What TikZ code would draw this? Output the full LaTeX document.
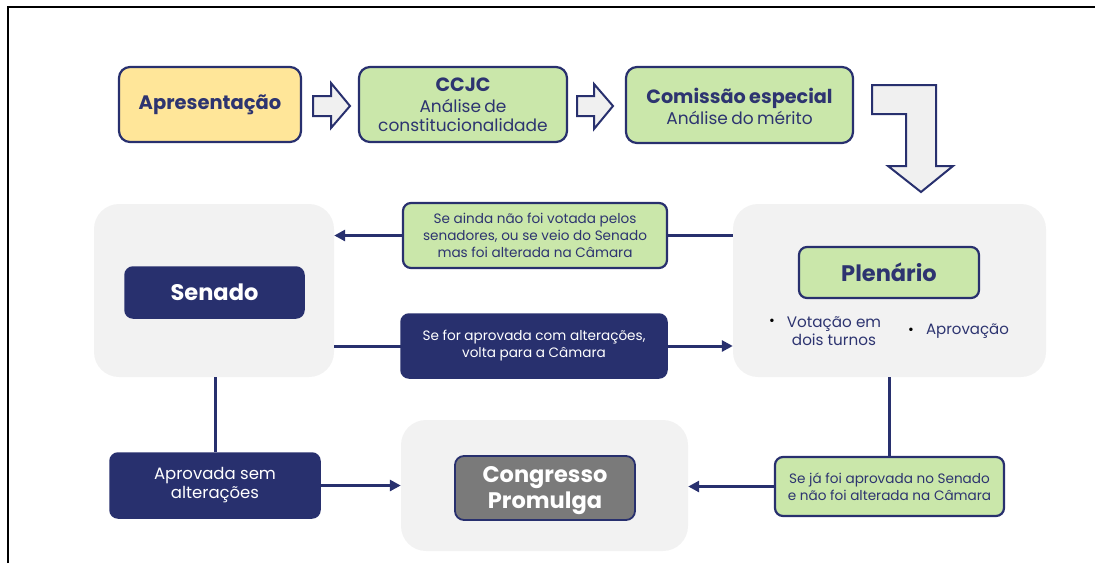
\documentclass[tikz,border=0pt]{standalone}
\usepackage{fontspec}
\setmainfont{Poppins}
\usetikzlibrary{arrows.meta}
\definecolor{navy}{RGB}{40,48,110}
\definecolor{tnavy}{RGB}{45,52,112}
\definecolor{lgreen}{RGB}{202,231,170}
\definecolor{lyellow}{RGB}{255,230,153}
\definecolor{cgray}{RGB}{242,242,242}
\definecolor{agray}{RGB}{240,240,240}
\definecolor{dgray}{RGB}{122,122,122}
\pgfdeclarelayer{bg}
\pgfdeclarelayer{ln}
\pgfsetlayers{bg,ln,main}
\newcommand{\bigt}{\bfseries\fontsize{19.2}{21}\selectfont}
\newcommand{\subt}{\mdseries\fontsize{17}{20.5}\selectfont}
\tikzset{
  x=1pt, y=-1pt,
  box/.style={draw=navy, line width=2.2pt, rounded corners=11pt, inner sep=0pt, align=center, text=tnavy},
  container/.style={fill=cgray, rounded corners=25pt, inner sep=0pt},
  lab/.style={font=\fontsize{13.6}{17}\selectfont},
  conn/.style={draw=navy, line width=3pt},
  tip/.style={-{Triangle[length=11pt,width=11pt]}},
  blockarrow/.style={draw=navy, fill=agray, line width=2pt, line join=miter},
}
\begin{document}
\begin{tikzpicture}
\useasboundingbox (0,0) rectangle (1095,563);
% frame
\draw[line width=2pt] (8,563) -- (8,7) -- (1095,7);

% top row
\node[box, fill=lyellow, font=\bfseries\fontsize{19.5}{22}\selectfont, minimum width=182pt, minimum height=75pt] (apres) at (210,104.5) {Apresentação};
\node[box, fill=lgreen, minimum width=208pt, minimum height=75pt, text width=206pt] (ccjc) at (463,104.5)
  {\bigt CCJC\\[1pt]\subt Análise de\\[4.5pt]constitucionalidade};
\node[box, fill=lgreen, minimum width=227pt, minimum height=76pt] (comis) at (739.5,105) {};
\node[text=tnavy, align=center, inner sep=0pt, text width=225pt] (comisT) at ([yshift=-1.5pt]comis.center)
  {\bigt Comissão especial\\[1.5pt]\subt Análise do mérito};

% block arrows
\draw[blockarrow] (313,96) -- (331,96) -- (331,83) -- (350,106) -- (331,128) -- (331,116) -- (313,116) -- cycle;
\draw[blockarrow] (577,96) -- (594,96) -- (594,84) -- (613,106) -- (594,129) -- (594,116) -- (577,116) -- cycle;
\draw[blockarrow] (872,85) -- (936,85) -- (936,166) -- (953,166) -- (921,192) -- (888,166) -- (906,166) -- (906,114) -- (872,114) -- cycle;

% containers
\begin{pgfonlayer}{bg}
\node[container, minimum width=240pt, minimum height=173pt] (senC) at (214,290.5) {};
\node[container, minimum width=313pt, minimum height=173pt] (plenC) at (889.5,290.5) {};
\node[container, minimum width=287pt, minimum height=131pt] (congC) at (544.5,485.5) {};
\end{pgfonlayer}

% inner boxes
\node[box, fill=navy, text=white, font=\bfseries\fontsize{22.5}{26}\selectfont, line width=1.5pt, rounded corners=8pt, minimum width=179pt, minimum height=51pt] (senado) at (214.5,292.5) {Senado};
\node[box, fill=lgreen, font=\bfseries\fontsize{22.5}{26}\selectfont, rounded corners=8pt, minimum width=180pt, minimum height=51pt] (plen) at (889,272.5) {Plenário};
\node[box, fill=dgray, line width=1.8pt, rounded corners=9pt, minimum width=180pt, minimum height=64pt] (cong) at (545,488) {};
\node[text=white, align=center, inner sep=0pt, font=\bfseries\fontsize{22.5}{26}\selectfont] (congT) at ([yshift=-3pt]cong.center) {Congresso\\Promulga};

% bullets in plenario
\node[font=\fontsize{14}{14}\selectfont, text=black] (b1) at (772,322) {•};
\node[font=\fontsize{15.2}{18}\selectfont, text=tnavy, align=center] (vot) at (834,331) {Votação em\\dois turnos};
\node[font=\fontsize{14}{14}\selectfont, text=black] (b2) at (911,331) {•};
\node[font=\fontsize{15}{18}\selectfont, text=tnavy] (aprov) at (967.5,331) {Aprovação};

% label boxes
\node[box, fill=lgreen, lab, rounded corners=8pt, minimum width=264pt, minimum height=65pt] (l1) at (535,235.5)
  {Se ainda não foi votada pelos\\senadores, ou se veio do Senado\\mas foi alterada na Câmara};
\node[box, fill=navy, text=white, lab, line width=1.5pt, rounded corners=8pt, minimum width=266pt, minimum height=64pt] (l2) at (534,346)
  {Se for aprovada com alterações,\\volta para a Câmara};
\node[box, fill=navy, text=white, line width=1.5pt, rounded corners=8pt, minimum width=210pt, minimum height=65pt,
  font=\fontsize{16.5}{19}\selectfont] (l3) at (215,485.5)
  {Aprovada sem\\alterações};
\node[box, fill=lgreen, lab, rounded corners=8pt, minimum width=229pt, minimum height=59pt] (l4) at (889.5,486.5)
  {Se já foi aprovada no Senado\\e não foi alterada na Câmara};

% connectors
\begin{pgfonlayer}{ln}
\draw[conn, tip] (plenC.west |- l1) -- (senC.east |- l1);
\draw[conn, tip] (senC.east |- l2) -- (plenC.west |- l2);
\draw[conn] (senC.south -| l3) -- (l3.north);
\draw[conn, tip] (l3.east) -- (congC.west |- l3.east);
\draw[conn] (plenC.south -| l4) -- (l4.north);
\draw[conn, tip] (l4.west) -- (congC.east |- l4.west);
\end{pgfonlayer}
\end{tikzpicture}
\end{document}
